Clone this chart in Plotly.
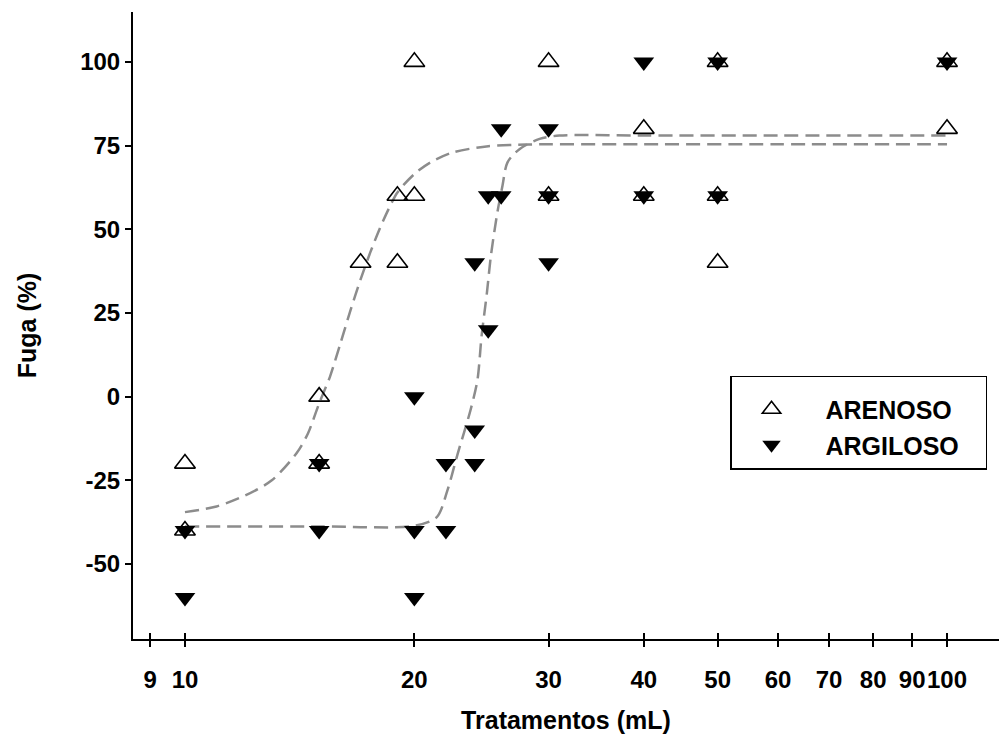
import plotly.graph_objects as go

# ---- data ----
arenoso_x = [10, 10, 15, 15, 17, 19, 19, 20, 20, 30, 30, 40, 40, 50, 50, 50, 100, 100]
arenoso_y = [-20, -40, 0, -20, 40, 40, 60, 60, 100, 100, 60, 80, 60, 100, 60, 40, 100, 80]

argiloso_x = [10, 10, 15, 15, 20, 20, 20, 22, 22, 24, 24, 24, 25, 25, 26, 26, 30, 30, 30, 40, 40, 50, 50, 100]
argiloso_y = [-40, -60, -20, -40, 0, -40, -60, -20, -40, -20, -10, 40, 20, 60, 60, 80, 80, 60, 40, 100, 60, 100, 60, 100]

# fitted curves
fit_arenoso_x = [10, 11, 12, 13, 14, 14.5, 15, 15.5, 16, 16.5, 17, 17.5, 18, 18.5, 19, 20, 21, 22.5, 25, 28, 30, 40, 60, 100]
fit_arenoso_y = [-34.5, -32.8, -29.5, -25, -17, -11, -2, 6, 16, 26, 35, 43, 50, 56, 61, 66.5, 70, 73, 74.8, 75.3, 75.4, 75.4, 75.4, 75.4]

fit_argiloso_x = [10, 15, 20, 21.4, 22.1, 22.8, 23.7, 24.2, 24.5, 24.9, 25.2, 25.7, 26.1, 26.5, 27.5, 29.2, 31, 40, 60, 100]
fit_argiloso_y = [-38.8, -38.8, -38.6, -36, -28, -17, -4, 5, 18, 31, 42, 55, 63, 70, 74, 77, 78, 78, 78, 78]

x_tickvals = [9, 10, 20, 30, 40, 50, 60, 70, 80, 90, 100]
x_ticktext = ["9", "10", "20", "30", "40", "50", "60", "70", "80", "90", "100"]
y_tickvals = [-50, -25, 0, 25, 50, 75, 100]
y_ticktext = ["-50", "-25", "0", "25", "50", "75", "100"]

FONT = "Liberation Sans, Arial, sans-serif"
NB = "\u00a0"

fig = go.Figure()

line_style = dict(color="#8c8c8c", width=2.5, dash="14px,7px", shape="spline", smoothing=0.8)

fig.add_trace(go.Scatter(x=fit_arenoso_x, y=fit_arenoso_y, mode="lines", line=line_style,
                         showlegend=False, hoverinfo="skip"))
fig.add_trace(go.Scatter(x=fit_argiloso_x, y=fit_argiloso_y, mode="lines", line=line_style,
                         showlegend=False, hoverinfo="skip"))

fig.add_trace(go.Scatter(x=argiloso_x, y=argiloso_y, mode="markers", name=NB * 2 + "ARGILOSO" + NB * 3,
                         marker=dict(symbol="triangle-down", size=18, color="black",
                                     line=dict(color="black", width=0))))
fig.add_trace(go.Scatter(x=arenoso_x, y=arenoso_y, mode="markers", name=NB * 2 + "ARENOSO",
                         marker=dict(symbol="triangle-up-open", size=18, color="black",
                                     line=dict(color="black", width=1.6))))

fig.update_layout(
    width=999, height=747,
    margin=dict(l=133, r=0, t=12, b=108, autoexpand=False),
    paper_bgcolor="white", plot_bgcolor="white",
    font=dict(family=FONT, size=24, color="black", weight="bold"),
    showlegend=True,
    legend=dict(
        x=0.6894, y=0.4196, xanchor="left", yanchor="top",
        bordercolor="black", borderwidth=1.5, bgcolor="white",
        font=dict(family=FONT, size=25, color="black", weight="bold"),
        itemwidth=70, traceorder="reversed",
        title=dict(text=NB, font=dict(size=7)),
    ),
    xaxis=dict(
        type="log", range=[0.9318, 2.0682],
        tickvals=x_tickvals, ticktext=x_ticktext, tickangle=0,
        ticks="outside", ticklen=6, tickwidth=1.5, tickcolor="black",
        showline=True, linecolor="black", linewidth=2,
        showgrid=False, zeroline=False, ticklabelstandoff=12, automargin=False,
        tickfont=dict(family=FONT, size=24, color="black", weight="bold"),
        title=dict(text="Tratamentos (mL)", standoff=20,
                   font=dict(family=FONT, size=25, color="black", weight="bold")),
    ),
    xaxis2=dict(
        type="log", range=[0.9318, 2.0682], overlaying="x", anchor="y", side="bottom",
        tickvals=x_tickvals, showticklabels=False,
        ticks="inside", ticklen=6, tickwidth=1.5, tickcolor="black",
        showline=False, showgrid=False, zeroline=False,
    ),
    yaxis=dict(
        range=[-72.4, 114.9],
        tickvals=y_tickvals, ticktext=y_ticktext,
        ticks="outside", ticklen=6, tickwidth=1.5, tickcolor="black",
        showline=True, linecolor="black", linewidth=2,
        showgrid=False, zeroline=False, automargin=False,
        tickfont=dict(family=FONT, size=24, color="black", weight="bold"),
        title=dict(text="Fuga (%)", standoff=36,
                   font=dict(family=FONT, size=25, color="black", weight="bold")),
    ),
)

# invisible trace to activate xaxis2 ticks
fig.add_trace(go.Scatter(x=[10], y=[0], xaxis="x2", yaxis="y", mode="markers",
                         marker=dict(opacity=0), showlegend=False, hoverinfo="skip"))

fig.write_html("out.html")
